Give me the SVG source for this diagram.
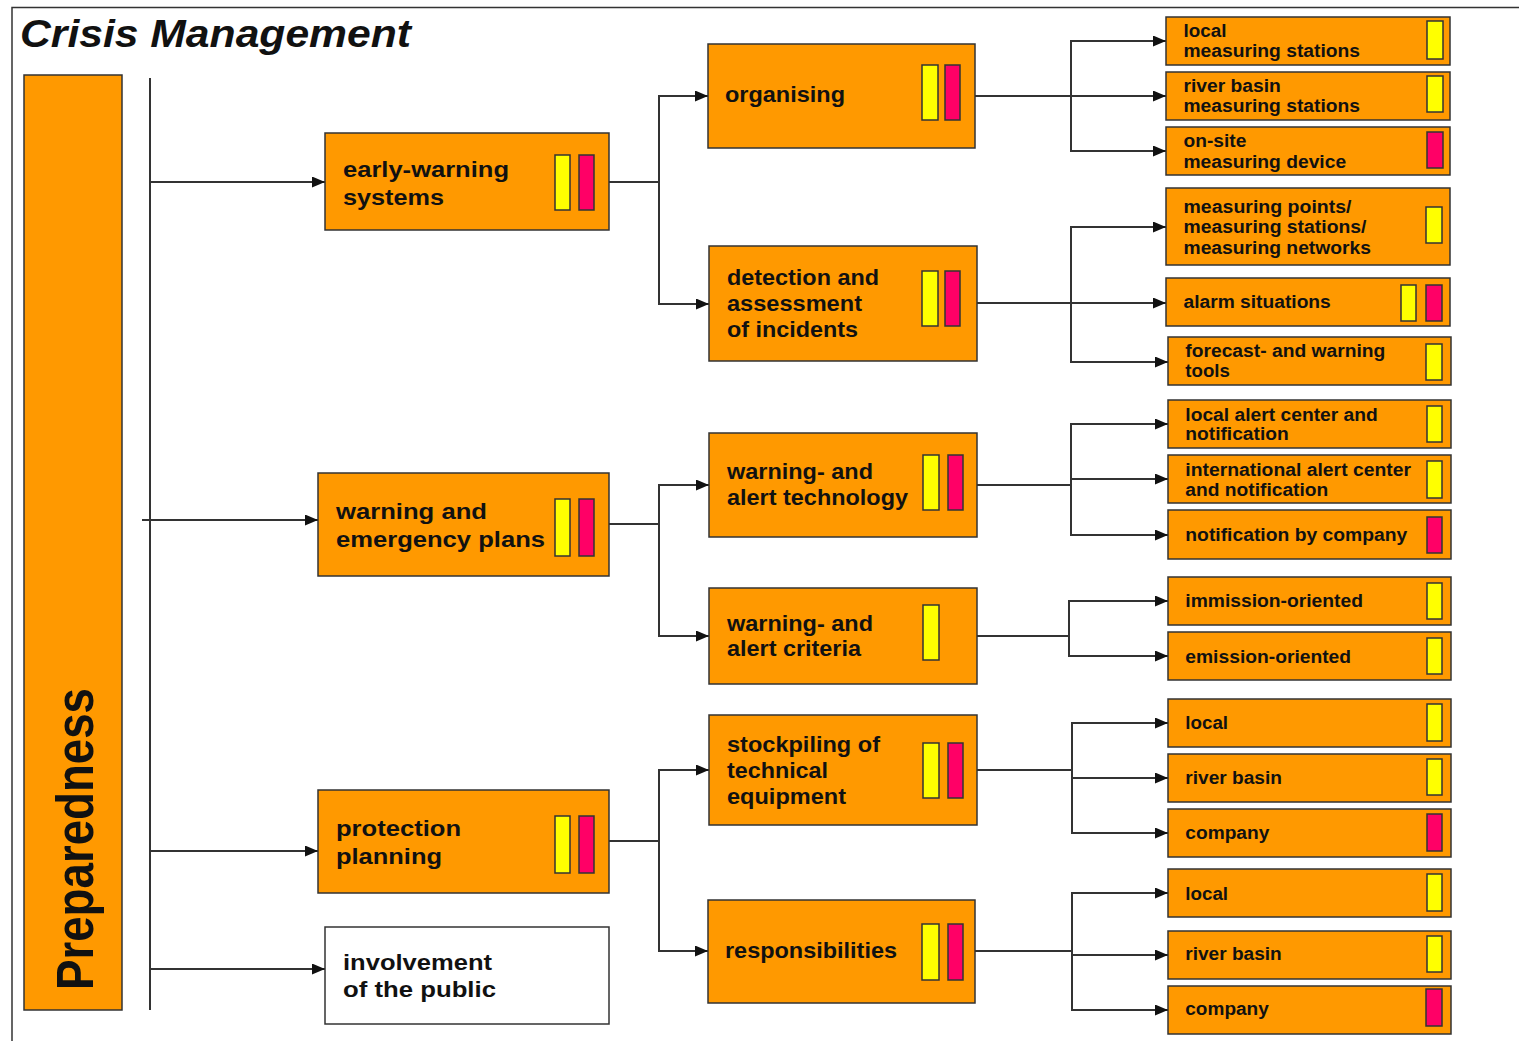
<svg xmlns="http://www.w3.org/2000/svg" width="1519" height="1041" viewBox="0 0 1519 1041">
<style>
.box{fill:#FF9900;stroke:#333;stroke-width:1.5}
.wbox{fill:#fff;stroke:#333;stroke-width:1.5}
.y{fill:#FFFF00;stroke:#333;stroke-width:1.5}
.r{fill:#FF0066;stroke:#333;stroke-width:1.5}
text{font-family:"Liberation Sans",Arial,sans-serif;fill:#111}
.t1{font-weight:bold;font-size:22.5px}
.t2{font-weight:bold;font-size:21.5px}
.t3{font-weight:bold;font-size:17.5px}
.conn path{stroke:#333;stroke-width:2;fill:none}
.arr{marker-end:url(#ah)}
</style>
<defs>
<marker id="ah" markerUnits="userSpaceOnUse" markerWidth="13" markerHeight="11" refX="13" refY="5.5" orient="auto">
<path d="M0,0 L13,5.5 L0,11 z" fill="#111"/>
</marker>
</defs>
<rect width="1519" height="1041" fill="#fff"/>
<path d="M12,1041 V7.5 H1519" fill="none" stroke="#333" stroke-width="1.5"/>
<text x="20" y="47" font-size="38" font-weight="bold" font-style="italic" textLength="391" lengthAdjust="spacingAndGlyphs">Crisis Management</text>

<g class="conn">
<path d="M150,78 V1010"/>
<path class="arr" d="M150,182 H325"/>
<path class="arr" d="M142,520 H318"/>
<path class="arr" d="M150,851 H318"/>
<path class="arr" d="M150,969 H325"/>
<path d="M609,182 H659"/>
<path class="arr" d="M659,182 V96 H708"/>
<path class="arr" d="M659,182 V304 H709"/>
<path d="M609,524 H659"/>
<path class="arr" d="M659,524 V485 H709"/>
<path class="arr" d="M659,524 V636 H709"/>
<path d="M609,841 H659"/>
<path class="arr" d="M659,841 V770 H709"/>
<path class="arr" d="M659,841 V951 H708"/>
<path class="arr" d="M975,96 H1166"/>
<path class="arr" d="M1071,96 V41 H1166"/>
<path class="arr" d="M1071,96 V151 H1166"/>
<path class="arr" d="M977,303 H1166"/>
<path class="arr" d="M1071,303 V227 H1166"/>
<path class="arr" d="M1071,303 V362 H1168"/>
<path d="M977,485 H1071"/>
<path class="arr" d="M1071,485 V424 H1168"/>
<path class="arr" d="M1071,479 H1168"/>
<path class="arr" d="M1071,485 V535 H1168"/>
<path d="M977,636 H1069"/>
<path class="arr" d="M1069,636 V601 H1168"/>
<path class="arr" d="M1069,636 V656 H1168"/>
<path d="M977,770 H1072"/>
<path class="arr" d="M1072,770 V723 H1168"/>
<path class="arr" d="M1072,778 H1168"/>
<path class="arr" d="M1072,770 V833 H1168"/>
<path d="M975,951 H1072"/>
<path class="arr" d="M1072,951 V893 H1168"/>
<path class="arr" d="M1072,955 H1168"/>
<path class="arr" d="M1072,951 V1010 H1168"/>
</g>

<g id="preparedness">
<rect class="box" x="24" y="75" width="98" height="935"/>
<text transform="matrix(0 -1 1.12 0 93 990)" font-size="46.5" font-weight="bold" textLength="302" lengthAdjust="spacingAndGlyphs">Preparedness</text>
</g>

<g id="early-warning">
<rect class="box" x="325" y="133" width="284" height="97"/>
<text class="t1"><tspan x="343" y="177" textLength="166" lengthAdjust="spacingAndGlyphs">early-warning</tspan><tspan x="343" y="205" textLength="101" lengthAdjust="spacingAndGlyphs">systems</tspan></text>
<rect class="y" x="555" y="155" width="15" height="55"/><rect class="r" x="579" y="155" width="15" height="55"/>
</g>
<g id="warning-plans">
<rect class="box" x="318" y="473" width="291" height="103"/>
<text class="t1"><tspan x="336" y="519" textLength="151" lengthAdjust="spacingAndGlyphs">warning and</tspan><tspan x="336" y="547" textLength="209" lengthAdjust="spacingAndGlyphs">emergency plans</tspan></text>
<rect class="y" x="555" y="499" width="15" height="57"/><rect class="r" x="579" y="499" width="15" height="57"/>
</g>
<g id="protection">
<rect class="box" x="318" y="790" width="291" height="103"/>
<text class="t1"><tspan x="336" y="836" textLength="125" lengthAdjust="spacingAndGlyphs">protection</tspan><tspan x="336" y="864" textLength="106" lengthAdjust="spacingAndGlyphs">planning</tspan></text>
<rect class="y" x="555" y="816" width="15" height="57"/><rect class="r" x="579" y="816" width="15" height="57"/>
</g>
<g id="involvement">
<rect class="wbox" x="325" y="927" width="284" height="97"/>
<text class="t1"><tspan x="343" y="970" textLength="149" lengthAdjust="spacingAndGlyphs">involvement</tspan><tspan x="343" y="997" textLength="153" lengthAdjust="spacingAndGlyphs">of the public</tspan></text>
</g>

<g id="organising">
<rect class="box" x="708" y="44" width="267" height="104"/>
<text class="t2" x="725" y="102" textLength="120" lengthAdjust="spacingAndGlyphs">organising</text>
<rect class="y" x="922" y="65" width="16" height="55"/><rect class="r" x="945" y="65" width="15" height="55"/>
</g>
<g id="detection">
<rect class="box" x="709" y="246" width="268" height="115"/>
<text class="t2"><tspan x="727" y="285" textLength="152" lengthAdjust="spacingAndGlyphs">detection and</tspan><tspan x="727" y="311" textLength="135" lengthAdjust="spacingAndGlyphs">assessment</tspan><tspan x="727" y="337" textLength="131" lengthAdjust="spacingAndGlyphs">of incidents</tspan></text>
<rect class="y" x="922" y="271" width="16" height="55"/><rect class="r" x="945" y="271" width="15" height="55"/>
</g>
<g id="alert-technology">
<rect class="box" x="709" y="433" width="268" height="104"/>
<text class="t2"><tspan x="727" y="479" textLength="146" lengthAdjust="spacingAndGlyphs">warning- and</tspan><tspan x="727" y="505" textLength="181" lengthAdjust="spacingAndGlyphs">alert technology</tspan></text>
<rect class="y" x="923" y="455" width="16" height="55"/><rect class="r" x="948" y="455" width="15" height="55"/>
</g>
<g id="alert-criteria">
<rect class="box" x="709" y="588" width="268" height="96"/>
<text class="t2"><tspan x="727" y="631" textLength="146" lengthAdjust="spacingAndGlyphs">warning- and</tspan><tspan x="727" y="656" textLength="134" lengthAdjust="spacingAndGlyphs">alert criteria</tspan></text>
<rect class="y" x="923" y="605" width="16" height="55"/>
</g>
<g id="stockpiling">
<rect class="box" x="709" y="715" width="268" height="110"/>
<text class="t2"><tspan x="727" y="752" textLength="153" lengthAdjust="spacingAndGlyphs">stockpiling of</tspan><tspan x="727" y="778" textLength="101" lengthAdjust="spacingAndGlyphs">technical</tspan><tspan x="727" y="804" textLength="119" lengthAdjust="spacingAndGlyphs">equipment</tspan></text>
<rect class="y" x="923" y="743" width="16" height="55"/><rect class="r" x="948" y="743" width="15" height="55"/>
</g>
<g id="responsibilities">
<rect class="box" x="708" y="900" width="267" height="103"/>
<text class="t2" x="725" y="958" textLength="172" lengthAdjust="spacingAndGlyphs">responsibilities</text>
<rect class="y" x="922" y="924" width="17" height="56"/><rect class="r" x="948" y="924" width="15" height="56"/>
</g>

<g id="local-measuring-stations">
<rect class="box" x="1166" y="17" width="284" height="48"/>
<text class="t3"><tspan x="1183.5" y="37.3" textLength="43" lengthAdjust="spacingAndGlyphs">local</tspan><tspan x="1183.5" y="56.7" textLength="176.5" lengthAdjust="spacingAndGlyphs">measuring stations</tspan></text>
<rect class="y" x="1427" y="21" width="16" height="38"/>
</g>
<g id="river-basin-measuring-stations">
<rect class="box" x="1166" y="72" width="284" height="48"/>
<text class="t3"><tspan x="1183.5" y="92.3" textLength="97.4" lengthAdjust="spacingAndGlyphs">river basin</tspan><tspan x="1183.5" y="111.7" textLength="176.5" lengthAdjust="spacingAndGlyphs">measuring stations</tspan></text>
<rect class="y" x="1427" y="76" width="16" height="36"/>
</g>
<g id="on-site-measuring-device">
<rect class="box" x="1166" y="127" width="284" height="48"/>
<text class="t3"><tspan x="1183.5" y="147.3" textLength="62.8" lengthAdjust="spacingAndGlyphs">on-site</tspan><tspan x="1183.5" y="168" textLength="162.6" lengthAdjust="spacingAndGlyphs">measuring device</tspan></text>
<rect class="r" x="1427" y="132" width="16" height="36"/>
</g>
<g id="measuring-points">
<rect class="box" x="1166" y="188" width="284" height="77"/>
<text class="t3"><tspan x="1183.5" y="213.3" textLength="168" lengthAdjust="spacingAndGlyphs">measuring points/</tspan><tspan x="1183.5" y="233.3" textLength="183" lengthAdjust="spacingAndGlyphs">measuring stations/</tspan><tspan x="1183.5" y="254" textLength="187.5" lengthAdjust="spacingAndGlyphs">measuring networks</tspan></text>
<rect class="y" x="1426" y="207" width="16" height="36"/>
</g>
<g id="alarm-situations">
<rect class="box" x="1166" y="278" width="284" height="48"/>
<text class="t3" x="1183.5" y="308.3" textLength="147.3" lengthAdjust="spacingAndGlyphs">alarm situations</text>
<rect class="y" x="1401" y="285" width="15" height="36"/><rect class="r" x="1426" y="285" width="16" height="36"/>
</g>
<g id="forecast-tools">
<rect class="box" x="1168" y="337" width="283" height="48"/>
<text class="t3"><tspan x="1185.3" y="356.7" textLength="200" lengthAdjust="spacingAndGlyphs">forecast- and warning</tspan><tspan x="1185.3" y="377.3" textLength="44.6" lengthAdjust="spacingAndGlyphs">tools</tspan></text>
<rect class="y" x="1426" y="344" width="16" height="36"/>
</g>
<g id="local-alert-center">
<rect class="box" x="1168" y="400" width="283" height="48"/>
<text class="t3"><tspan x="1185.3" y="420.7" textLength="192.5" lengthAdjust="spacingAndGlyphs">local alert center and</tspan><tspan x="1185.3" y="440" textLength="103.4" lengthAdjust="spacingAndGlyphs">notification</tspan></text>
<rect class="y" x="1427" y="406" width="15" height="36"/>
</g>
<g id="international-alert-center">
<rect class="box" x="1168" y="455" width="283" height="48"/>
<text class="t3"><tspan x="1185.3" y="475.7" textLength="225.7" lengthAdjust="spacingAndGlyphs">international alert center</tspan><tspan x="1185.3" y="496" textLength="143" lengthAdjust="spacingAndGlyphs">and notification</tspan></text>
<rect class="y" x="1427" y="461" width="15" height="37"/>
</g>
<g id="notification-by-company">
<rect class="box" x="1168" y="510" width="283" height="49"/>
<text class="t3" x="1185.3" y="540.7" textLength="222" lengthAdjust="spacingAndGlyphs">notification by company</text>
<rect class="r" x="1427" y="517" width="15" height="36"/>
</g>
<g id="immission-oriented">
<rect class="box" x="1168" y="577" width="283" height="48"/>
<text class="t3" x="1185.3" y="607.3" textLength="177.6" lengthAdjust="spacingAndGlyphs">immission-oriented</text>
<rect class="y" x="1427" y="583" width="15" height="36"/>
</g>
<g id="emission-oriented">
<rect class="box" x="1168" y="632" width="283" height="48"/>
<text class="t3" x="1185.3" y="662.7" textLength="165.8" lengthAdjust="spacingAndGlyphs">emission-oriented</text>
<rect class="y" x="1427" y="638" width="15" height="36"/>
</g>
<g id="stock-local">
<rect class="box" x="1168" y="699" width="283" height="48"/>
<text class="t3" x="1185.3" y="729" textLength="42.8" lengthAdjust="spacingAndGlyphs">local</text>
<rect class="y" x="1427" y="704" width="15" height="37"/>
</g>
<g id="stock-river-basin">
<rect class="box" x="1168" y="754" width="283" height="48"/>
<text class="t3" x="1185.3" y="784" textLength="96.6" lengthAdjust="spacingAndGlyphs">river basin</text>
<rect class="y" x="1427" y="759" width="15" height="36"/>
</g>
<g id="stock-company">
<rect class="box" x="1168" y="809" width="283" height="48"/>
<text class="t3" x="1185.3" y="839.3" textLength="84" lengthAdjust="spacingAndGlyphs">company</text>
<rect class="r" x="1427" y="814" width="15" height="37"/>
</g>
<g id="resp-local">
<rect class="box" x="1168" y="869" width="283" height="48"/>
<text class="t3" x="1185.3" y="900" textLength="42.8" lengthAdjust="spacingAndGlyphs">local</text>
<rect class="y" x="1427" y="874" width="15" height="37"/>
</g>
<g id="resp-river-basin">
<rect class="box" x="1168" y="931" width="283" height="48"/>
<text class="t3" x="1185.3" y="960" textLength="96.4" lengthAdjust="spacingAndGlyphs">river basin</text>
<rect class="y" x="1427" y="936" width="15" height="36"/>
</g>
<g id="resp-company">
<rect class="box" x="1168" y="986" width="283" height="48"/>
<text class="t3" x="1185.3" y="1015" textLength="83.5" lengthAdjust="spacingAndGlyphs">company</text>
<rect class="r" x="1426" y="989" width="16" height="37"/>
</g>
</svg>
